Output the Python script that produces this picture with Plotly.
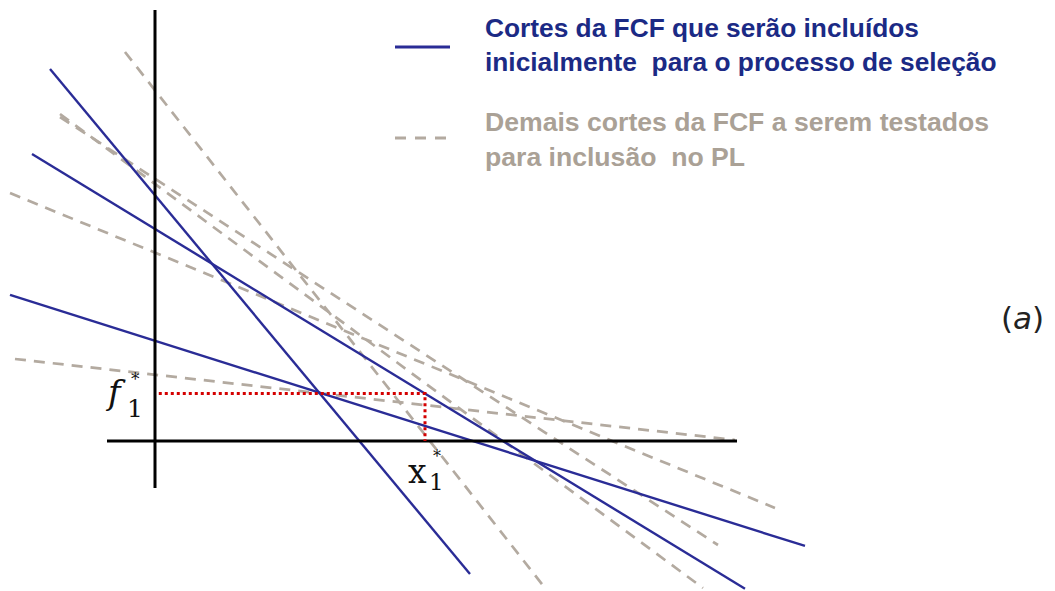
import plotly.graph_objects as go

W, H = 1055, 591

# Coordinate frame of the diagram (origin where the two axes meet)
x_range = [-2.8704, 16.6667]
y_range = [-2.7778, 8.1667]

# Axis segments
axis_h_x = [-0.889, 10.778]
axis_v_y = [-0.870, 7.981]

# FCF cuts included from the start (solid), one entry per cut
solid_x0 = [-1.944, -2.278, -2.685]
solid_y0 = [6.889, 5.315, 2.704]
solid_x1 = [5.833, 10.926, 12.037]
solid_y1 = [-2.463, -2.735, -1.944]

# Remaining FCF cuts to be tested (dashed)
dashed_x0 = [-0.556, -1.759, -1.759, -2.685, -2.593]
dashed_y0 = [7.204, 6.000, 6.056, 4.593, 1.519]
dashed_x1 = [7.222, 10.426, 10.148, 11.481, 10.741]
dashed_y1 = [-2.722, -1.926, -2.722, -1.241, 0.019]

# Optimal point of the first stage
x_star = 5.0
f_star = 0.88

BLUE = "#2a2c96"
GRAY = "#b3aaa0"
TXT_BLUE = "#1b2a85"
TXT_GRAY = "#aaa196"
INK = "#111111"

fig = go.Figure()

for xa, ya, xb, yb in zip(dashed_x0, dashed_y0, dashed_x1, dashed_y1):
    fig.add_trace(go.Scatter(x=[xa, xb], y=[ya, yb], mode="lines",
                             line=dict(color=GRAY, width=2.7, dash="11px,8px"),
                             hoverinfo="skip", showlegend=False))

for xa, ya, xb, yb in zip(solid_x0, solid_y0, solid_x1, solid_y1):
    fig.add_trace(go.Scatter(x=[xa, xb], y=[ya, yb], mode="lines",
                             line=dict(color=BLUE, width=2.4),
                             hoverinfo="skip", showlegend=False))

# Axes
fig.add_trace(go.Scatter(x=axis_h_x, y=[0, 0], mode="lines",
                         line=dict(color="black", width=3),
                         hoverinfo="skip", showlegend=False))
fig.add_trace(go.Scatter(x=[0, 0], y=axis_v_y, mode="lines",
                         line=dict(color="black", width=3),
                         hoverinfo="skip", showlegend=False))

# Projection of the optimum on both axes
fig.add_trace(go.Scatter(x=[0.07, x_star, x_star], y=[f_star, f_star, 0],
                         mode="lines",
                         line=dict(color="#d40000", width=3, dash="dot"),
                         hoverinfo="skip", showlegend=False))


def px(x):
    return x / W


def py(y):
    return 1 - y / H


shapes = [
    dict(type="line", xref="paper", yref="paper", x0=px(395), x1=px(450),
         y0=py(47), y1=py(47), line=dict(color=BLUE, width=3)),
    dict(type="line", xref="paper", yref="paper", x0=px(395), x1=px(452),
         y0=py(138), y1=py(138), line=dict(color=GRAY, width=3, dash="11px,9px")),
]

annotations = [
    dict(xref="paper", yref="paper", x=px(483), y=py(45), xanchor="left", yanchor="middle",
         align="left", showarrow=False,
         text="Cortes da FCF que serão incluídos<br>inicialmente  para o processo de seleção",
         font=dict(family="Liberation Sans", size=26.3, color=TXT_BLUE, weight="bold")),
    dict(xref="paper", yref="paper", x=px(483), y=py(139), xanchor="left", yanchor="middle",
         align="left", showarrow=False,
         text="Demais cortes da FCF a serem testados<br>para inclusão  no PL",
         font=dict(family="Liberation Sans", size=26.6, color=TXT_GRAY, weight="bold")),
    dict(xref="paper", yref="paper", x=px(1022), y=py(318), xanchor="center", yanchor="middle",
         showarrow=False, text="(<i>a</i>)",
         font=dict(family="DejaVu Sans", size=31, color="#222222")),
    # f1*
    dict(x=-0.74, y=f_star + 0.02, xanchor="center", yanchor="middle", showarrow=False,
         text="<i>f</i>", font=dict(family="DejaVu Serif", size=34, color=INK)),
    dict(x=-0.37, y=f_star + 0.26, xanchor="center", yanchor="middle", showarrow=False,
         text="*", font=dict(family="DejaVu Serif", size=17, color=INK)),
    dict(x=-0.37, y=f_star - 0.27, xanchor="center", yanchor="middle", showarrow=False,
         text="1", font=dict(family="DejaVu Serif", size=25, color=INK)),
    # x1*
    dict(x=x_star - 0.13, y=-0.56, xanchor="center", yanchor="middle", showarrow=False,
         text="x", font=dict(family="DejaVu Serif", size=33, color=INK)),
    dict(x=x_star + 0.22, y=-0.29, xanchor="center", yanchor="middle", showarrow=False,
         text="*", font=dict(family="DejaVu Serif", size=16, color=INK)),
    dict(x=x_star + 0.22, y=-0.75, xanchor="center", yanchor="middle", showarrow=False,
         text="1", font=dict(family="DejaVu Serif", size=23, color=INK)),
]

fig.update_layout(
    width=W, height=H,
    margin=dict(l=0, r=0, t=0, b=0),
    paper_bgcolor="white", plot_bgcolor="white",
    xaxis=dict(range=x_range, visible=False, fixedrange=True),
    yaxis=dict(range=y_range, visible=False, fixedrange=True),
    shapes=shapes, annotations=annotations,
    showlegend=False,
)

fig.write_html("out.html")
